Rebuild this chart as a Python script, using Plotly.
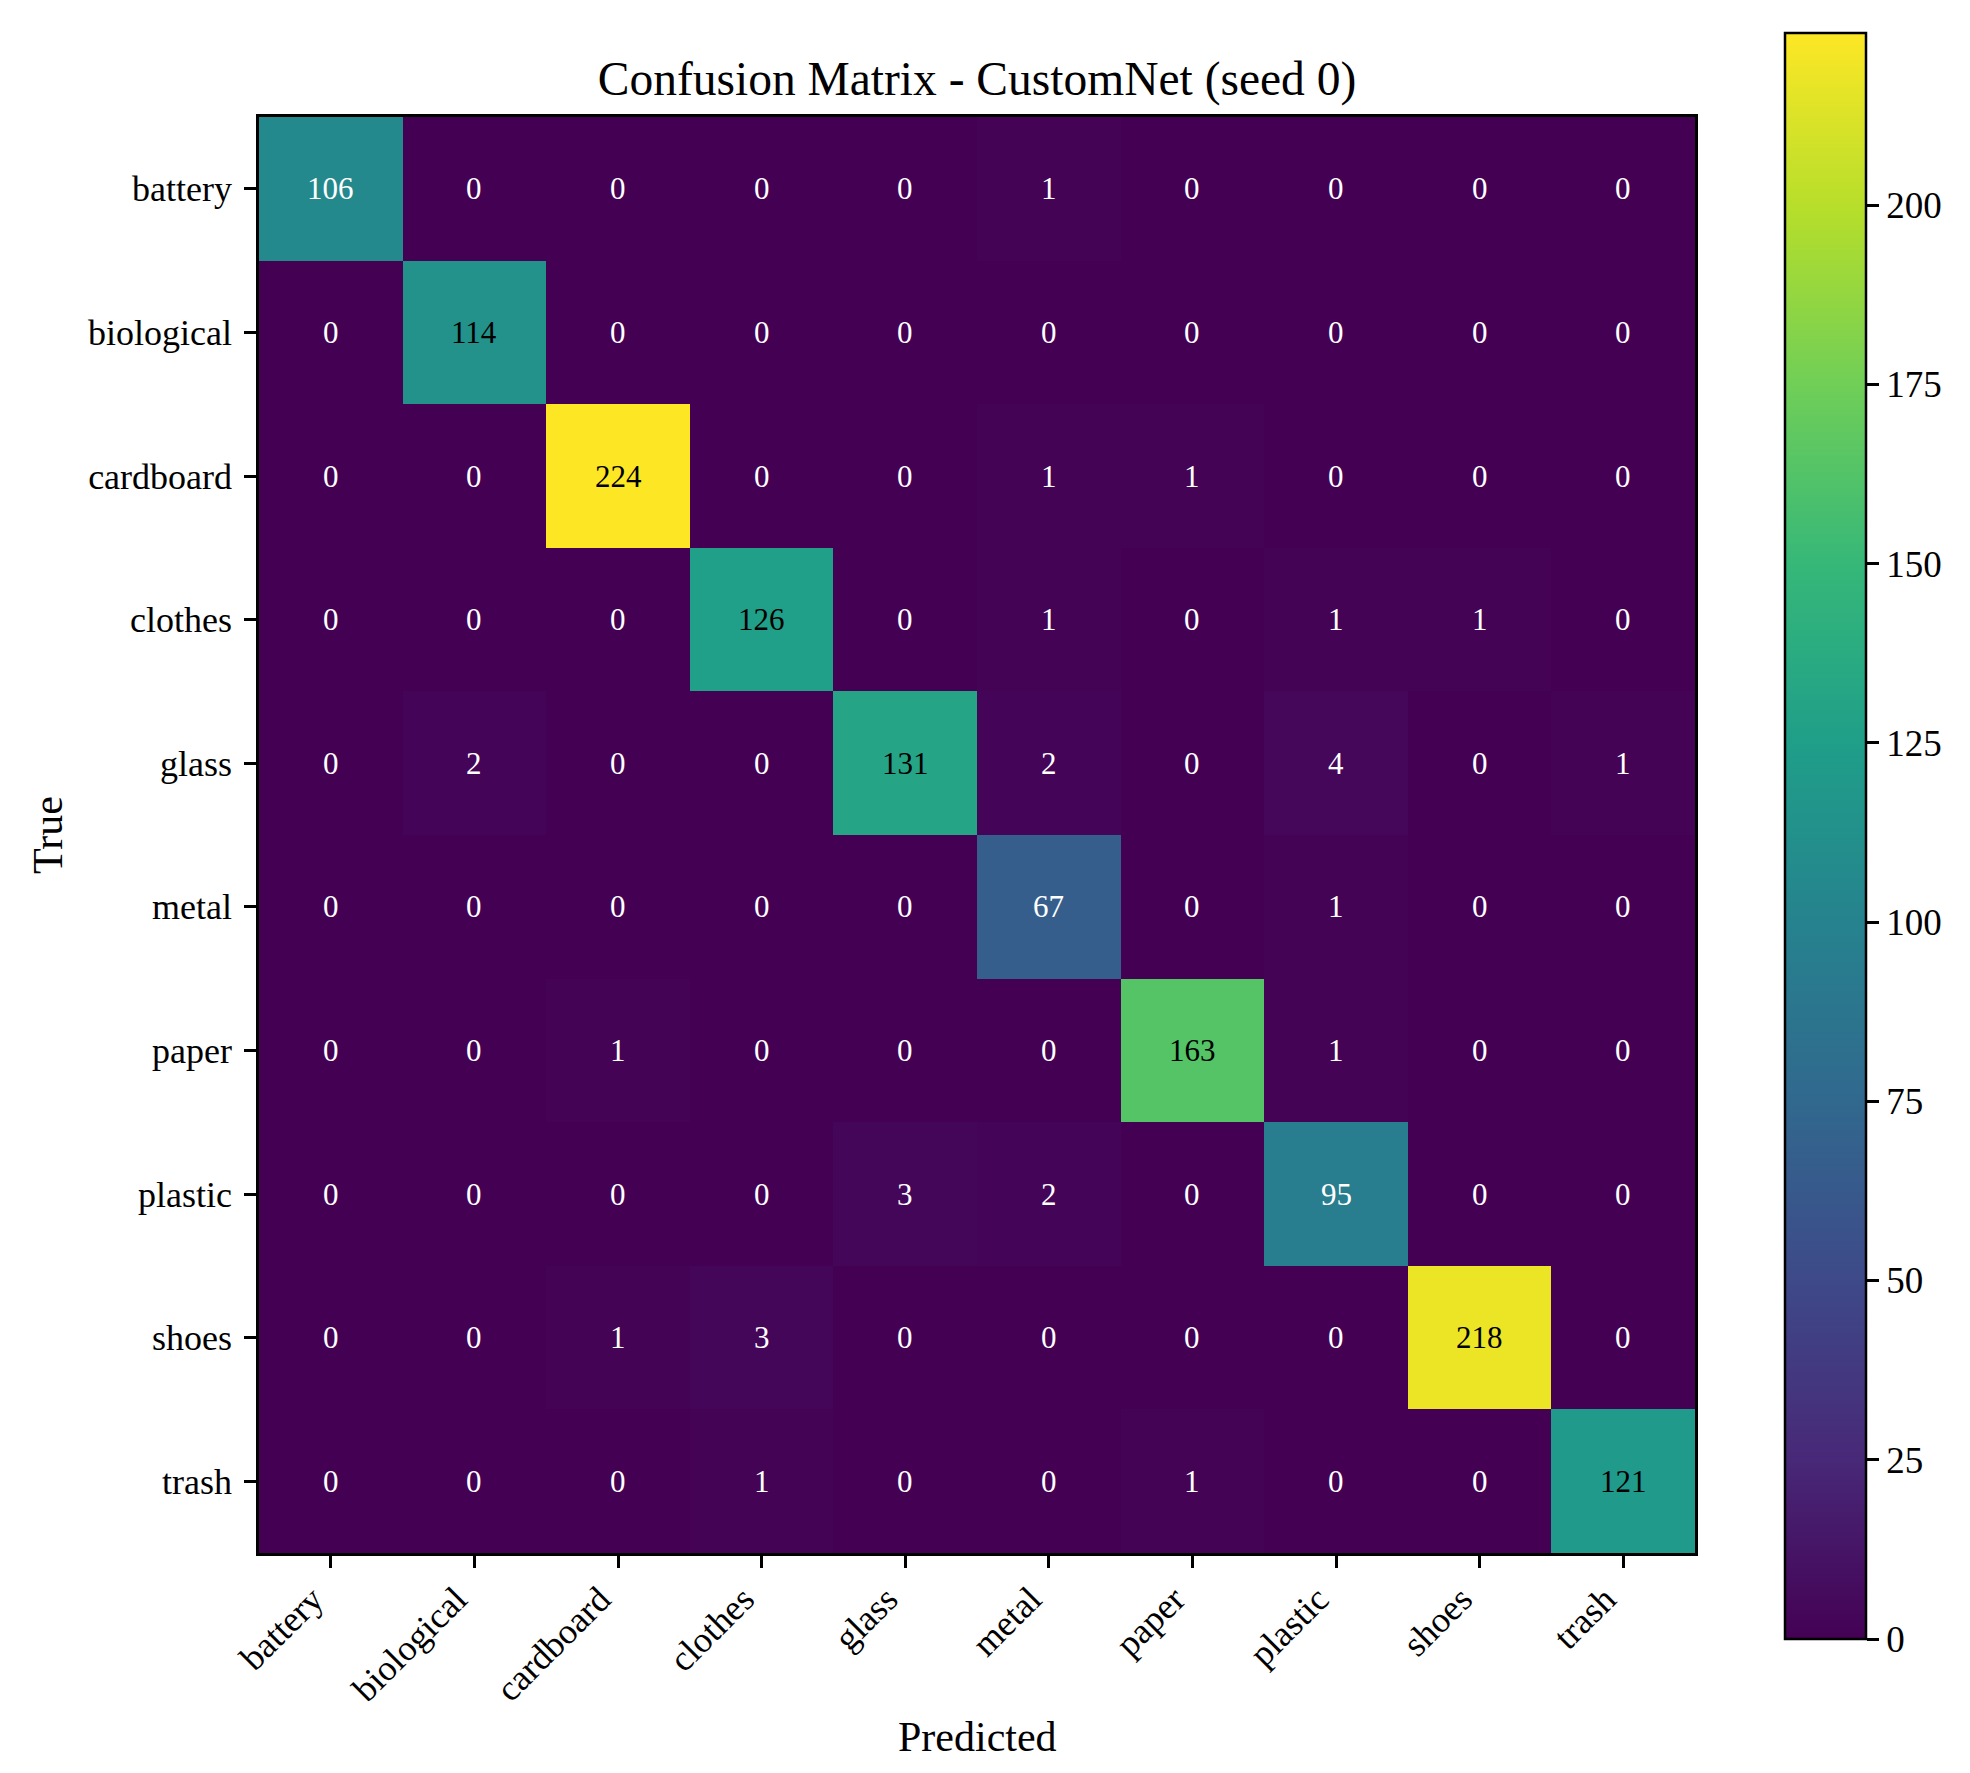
import plotly.graph_objects as go

# class labels and the confusion matrix (rows = true, cols = predicted)
class_names = ["battery", "biological", "cardboard", "clothes", "glass",
               "metal", "paper", "plastic", "shoes", "trash"]

row_battery = [106, 0, 0, 0, 0, 1, 0, 0, 0, 0]
row_biological = [0, 114, 0, 0, 0, 0, 0, 0, 0, 0]
row_cardboard = [0, 0, 224, 0, 0, 1, 1, 0, 0, 0]
row_clothes = [0, 0, 0, 126, 0, 1, 0, 1, 1, 0]
row_glass = [0, 2, 0, 0, 131, 2, 0, 4, 0, 1]
row_metal = [0, 0, 0, 0, 0, 67, 0, 1, 0, 0]
row_paper = [0, 0, 1, 0, 0, 0, 163, 1, 0, 0]
row_plastic = [0, 0, 0, 0, 3, 2, 0, 95, 0, 0]
row_shoes = [0, 0, 1, 3, 0, 0, 0, 0, 218, 0]
row_trash = [0, 0, 0, 1, 0, 0, 1, 0, 0, 121]

cm = [row_battery, row_biological, row_cardboard, row_clothes, row_glass,
      row_metal, row_paper, row_plastic, row_shoes, row_trash]

cbar_ticks = [0, 25, 50, 75, 100, 125, 150, 175, 200]

FONT = "Liberation Serif, Times New Roman, serif"
W, H = 1970, 1773
L, R, T, B = 251, 1687, 109, 1545  # plot area in px
PW, PH = R - L, B - T

cm_max = max(max(r) for r in cm)
n = len(class_names)

fig = go.Figure()
fig.add_trace(
    go.Heatmap(
        z=cm,
        x=list(range(n)),
        y=list(range(n)),
        colorscale="Viridis",
        zmin=0,
        zmax=cm_max,
        hoverongaps=False,
        colorbar=dict(
            x=(1777 - L) / PW,
            xanchor="left",
            xpad=0,
            y=(B - (25 + 1631) / 2) / PH,
            yanchor="middle",
            ypad=0,
            len=(1631 - 25) / PH,
            lenmode="fraction",
            thickness=81,
            outlinecolor="black",
            outlinewidth=2.5,
            tickvals=cbar_ticks,
            ticks="outside",
            ticklen=12,
            tickwidth=2.5,
            tickcolor="black",
            tickfont=dict(family=FONT, size=37, color="black"),
        ),
    )
)

# cell counts, white on dark cells and black on light ones (threshold = max / 2)
annotations = []
for i, row in enumerate(cm):
    for j, v in enumerate(row):
        annotations.append(
            dict(
                x=j, y=i, xref="x", yref="y", text=str(v), showarrow=False,
                font=dict(family=FONT, size=31, color="black" if v > cm_max / 2 else "white"),
            )
        )

annotations.append(
    dict(x=-0.147, y=0.5, xref="paper", yref="paper", text="True", textangle=-90,
         showarrow=False, xanchor="center", yanchor="middle",
         font=dict(family=FONT, size=42, color="black"))
)
annotations.append(
    dict(x=0.5, y=(B - 1729) / PH, xref="paper", yref="paper", text="Predicted",
         showarrow=False, xanchor="center", yanchor="middle",
         font=dict(family=FONT, size=42, color="black"))
)

axis_common = dict(
    showline=True,
    mirror=True,
    linecolor="black",
    linewidth=2.5,
    ticks="outside",
    ticklen=12,
    tickwidth=2.5,
    tickcolor="black",
    showgrid=False,
    zeroline=False,
    tickvals=list(range(n)),
    ticktext=class_names,
    tickfont=dict(family=FONT, size=36, color="black"),
)

fig.update_xaxes(range=[-0.5, n - 0.5], tickangle=-45,
                 ticklabelshift=-18, ticklabelstandoff=-4, **axis_common)
fig.update_yaxes(range=[n - 0.5, -0.5], ticklabelstandoff=5, **axis_common)

fig.update_layout(
    width=W,
    height=H,
    margin=dict(l=L, r=W - R, t=T, b=H - B, autoexpand=False),
    paper_bgcolor="white",
    plot_bgcolor="white",
    title=dict(
        text="Confusion Matrix - CustomNet (seed 0)",
        x=0.5,
        xref="paper",
        y=1 - 70 / H,
        yref="container",
        yanchor="middle",
        font=dict(family=FONT, size=47.5, color="black"),
    ),
    annotations=annotations,
    showlegend=False,
)

fig.write_html("out.html")
